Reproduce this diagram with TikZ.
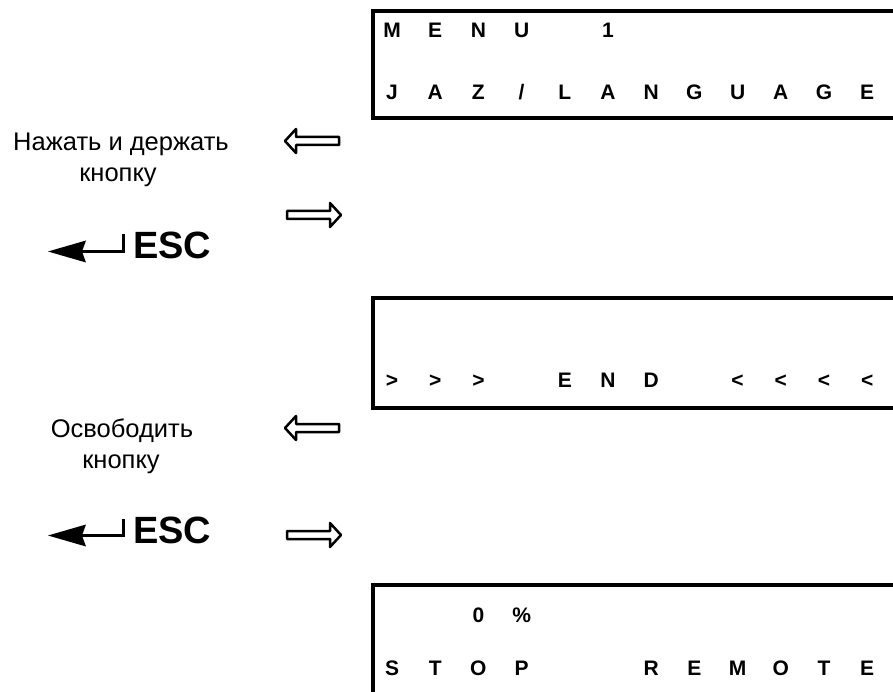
\documentclass[tikz,border=0pt]{standalone}
\usepackage{fontspec}
\setmainfont{Liberation Sans}
\newcommand\lcdrow[3]{\foreach \i/\c in {#2} {\node[lcd] (#3\i) at ({392+43.2*\i},#1) {\c};}}
\begin{document}
\begin{tikzpicture}[x=1pt,y=-1pt,
  lcd/.style={font=\bfseries\fontsize{21}{21}\selectfont, anchor=base, inner sep=0pt},
  ru/.style={font=\fontsize{25.5}{30}\selectfont, anchor=base, inner sep=0pt},
  esc/.style={font=\bfseries\fontsize{38}{38}\selectfont, anchor=base west, inner sep=0pt},
  frame/.style={line width=3.5pt},
  hollow/.style={line width=2.5pt, line join=round, fill=white},
  rarrow/.pic={\draw[hollow] (-27,-4) -- (16,-4) -- (16,-12) -- (27,0) -- (16,12) -- (16,4) -- (-27,4) -- cycle;},
  larrow/.pic={\draw[hollow] (27,-4) -- (-16,-4) -- (-16,-12) -- (-27,0) -- (-16,12) -- (-16,4) -- (27,4) -- cycle;},
  hook/.pic={\fill (0,0) -- (38,-11) -- (34,0) -- (38,11) -- cycle;
             \draw[line width=3.5pt] (34,0) -- (75.5,0) -- (75.5,-17);}
]
\useasboundingbox (0,0) rectangle (893,692);
\clip (0,0) rectangle (893,692);

% display frames (open to the right)
\draw[frame] (900,11) -| (373,118) -- (900,118);
\draw[frame] (900,298) -| (373,408) -- (900,408);
\draw[frame] (900,585) -| (373,700);

% display texts
\lcdrow{38}{0/M,1/E,2/N,3/U,5/1}{a}
\lcdrow{100}{0/J,1/A,2/Z,3/\slash,4/L,5/A,6/N,7/G,8/U,9/A,10/G,11/E}{b}
\lcdrow{387}{0/>,1/>,2/>,4/E,5/N,6/D,8/<,9/<,10/<,11/<}{c}
\lcdrow{622}{2/0,3/\%}{d}
\lcdrow{675}{0/S,1/T,2/O,3/P,6/R,7/E,8/M,9/O,10/T,11/E}{e}

% left-hand instructions
\node[ru] (t1) at (121,151) {Нажать и держать};
\node[ru] (t2) at (118,182) {кнопку};
\node[ru] (t3) at (122,437) {Освободить};
\node[ru] (t4) at (121,468) {кнопку};

\pic at (48,251.5) {hook};
\node[esc] (esc1) at (133,259) {ESC};
\pic at (48,535.5) {hook};
\node[esc] (esc2) at (133,543) {ESC};

% hollow arrows
\pic at (312,141) {larrow};
\pic at (314,215) {rarrow};
\pic at (312,428) {larrow};
\pic at (314,535) {rarrow};
\end{tikzpicture}
\end{document}
